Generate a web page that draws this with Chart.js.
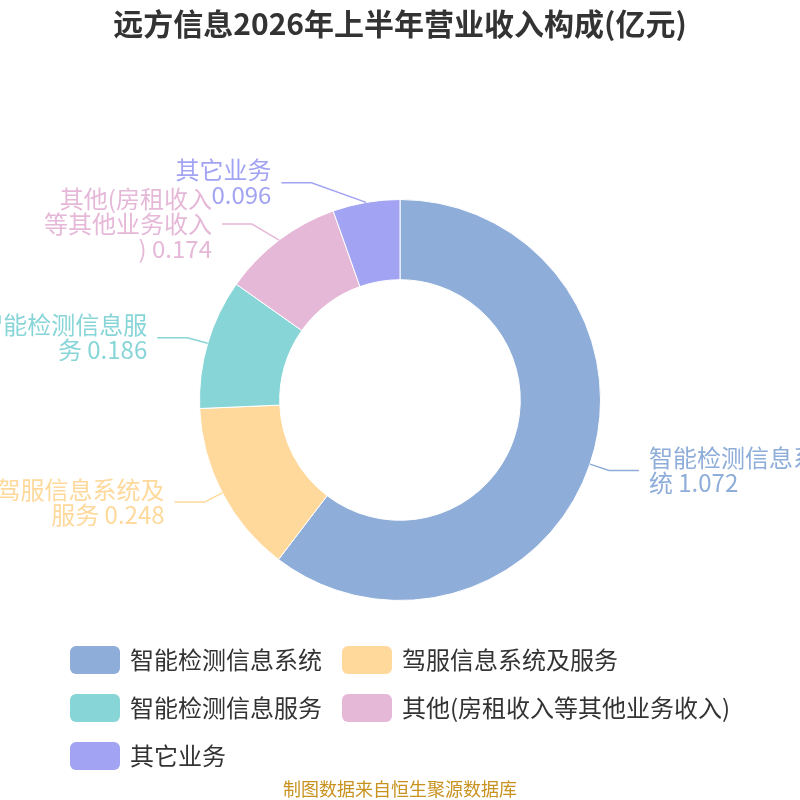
<!DOCTYPE html>
<html>
<head>
<meta charset="utf-8">
<script src="https://cdn.jsdelivr.net/npm/chart.js@4.4.1/dist/chart.umd.min.js"></script>
<style>
    html, body { margin: 0; padding: 0; background: #fff; }
    canvas { display: block; }
</style>
</head>
<body>
<canvas id="grafico" width="800" height="800"></canvas>
<script>
// Dados do gráfico
const categorias = ['智能检测信息系统', '驾服信息系统及服务', '智能检测信息服务', '其他(房租收入等其他业务收入)', '其它业务'];
const valores = [1.072, 0.248, 0.186, 0.174, 0.096];
const cores = ['#8eadd9', '#ffd99b', '#88d5d8', '#e6b8d8', '#a2a3f3'];
const titulo = '远方信息2026年上半年营业收入构成(亿元)';
const fonteDados = '制图数据来自恒生聚源数据库';

const FONTE = '"Noto Sans CJK SC", "Noto Sans", sans-serif';

// Quebra o texto em linhas: caracteres CJK um a um, palavras latinas inteiras
function quebraTexto(ctx, texto, largura) {
    const tokens = texto.match(/[A-Za-z0-9.]+|\s|./g);
    const em = ctx.measureText('汉').width;
    const mede = s => ctx.measureText(s.replace(/ /g, '')).width + (s.split(' ').length - 1) * em;
    const linhas = [];
    let atual = '';
    tokens.forEach(function (t) {
        if (atual && t !== ' ' && mede(atual + t) > largura) {
            linhas.push(atual.trim());
            atual = t;
        } else {
            atual += t;
        }
    });
    if (atual.trim()) linhas.push(atual.trim());
    return linhas;
}

// Rótulos externos com linha guia (calculados a partir dos arcos)
const rotulosExternos = {
    id: 'rotulosExternos',
    afterDatasetsDraw(chart) {
        const ctx = chart.ctx;
        const meta = chart.getDatasetMeta(0);
        const len1 = 20, len2 = 30, espaco = 10, alturaLinha = 25;

        const itens = meta.data.map(function (arc, i) {
            const p = arc.getProps(['x', 'y', 'startAngle', 'endAngle', 'outerRadius'], true);
            const meio = (p.startAngle + p.endAngle) / 2;
            const R = p.outerRadius + len1;
            return {
                i: i, cx: p.x, cy: p.y, r: p.outerRadius, R: R,
                cos: Math.cos(meio), sin: Math.sin(meio),
                lado: Math.cos(meio) >= 0 ? 1 : -1,
                y: p.y + R * Math.sin(meio)
            };
        });

        // Ajusta o x sobre uma elipse em cada quadrante
        const grupos = {};
        itens.forEach(function (it) {
            const chave = it.lado + (it.y < it.cy ? 'c' : 'b');
            (grupos[chave] = grupos[chave] || []).push(it);
        });
        Object.values(grupos).forEach(function (g) {
            const maxDy = Math.max.apply(null, g.map(it => Math.abs(it.y - it.cy)));
            g.forEach(function (it) {
                const rB = Math.max(it.R, maxDy + len1);
                const dy = it.y - it.cy;
                const dx = Math.sqrt(Math.max(0, 1 - (dy * dy) / (rB * rB))) * it.R;
                it.x = it.cx + it.lado * dx;
            });
        });

        ctx.save();
        ctx.font = '24px ' + FONTE;
        const largura = ctx.measureText('汉汉汉汉汉汉汉').width + 4;
        itens.forEach(function (it) {
            const cor = cores[it.i];
            ctx.strokeStyle = cor;
            ctx.lineWidth = 1.5;
            ctx.beginPath();
            ctx.moveTo(it.cx + it.r * it.cos, it.cy + it.r * it.sin);
            ctx.lineTo(it.x, it.y);
            ctx.lineTo(it.x + it.lado * len2, it.y);
            ctx.stroke();

            const texto = categorias[it.i] + ' ' + valores[it.i];
            const linhas = quebraTexto(ctx, texto, largura);
            const tx = it.x + it.lado * (len2 + espaco);
            ctx.fillStyle = cor;
            ctx.textAlign = it.lado > 0 ? 'left' : 'right';
            ctx.textBaseline = 'middle';
            const y0 = it.y - (linhas.length - 1) * alturaLinha / 2;
            linhas.forEach(function (l, k) {
                ctx.fillText(l, tx, y0 + k * alturaLinha);
            });
        });
        ctx.restore();
    },
    // Título, legenda e fonte
    afterDraw(chart) {
        const ctx = chart.ctx;
        ctx.save();
        ctx.textAlign = 'center';
        ctx.textBaseline = 'middle';
        ctx.fillStyle = '#333';
        ctx.font = 'bold 30px ' + FONTE;
        ctx.fillText(titulo, 400, 24);

        const colunas = [70, 342];
        ctx.font = '24px ' + FONTE;
        ctx.textAlign = 'left';
        categorias.forEach(function (nome, i) {
            const x = colunas[i % 2];
            const y = 646 + Math.floor(i / 2) * 48;
            ctx.fillStyle = cores[i];
            ctx.beginPath();
            ctx.roundRect(x, y, 50, 28, 6);
            ctx.fill();
            ctx.fillStyle = '#333';
            ctx.fillText(nome, x + 60, y + 14);
        });

        ctx.textAlign = 'center';
        ctx.fillStyle = '#c8921f';
        ctx.font = '18px ' + FONTE;
        ctx.fillText(fonteDados, 400, 789);
        ctx.restore();
    }
};

const ctx = document.getElementById('grafico').getContext('2d');
new Chart(ctx, {
    type: 'doughnut',
    data: {
        labels: categorias,
        datasets: [{
            data: valores,
            backgroundColor: cores,
            borderColor: '#fff',
            borderWidth: 1
        }]
    },
    options: {
        responsive: false,
        animation: false,
        devicePixelRatio: 1,
        cutout: '60%',
        layout: { padding: { top: 199, bottom: 199, left: 199, right: 199 } },
        plugins: {
            legend: { display: false },
            tooltip: { enabled: false }
        }
    },
    plugins: [rotulosExternos]
});
</script>
</body>
</html>
